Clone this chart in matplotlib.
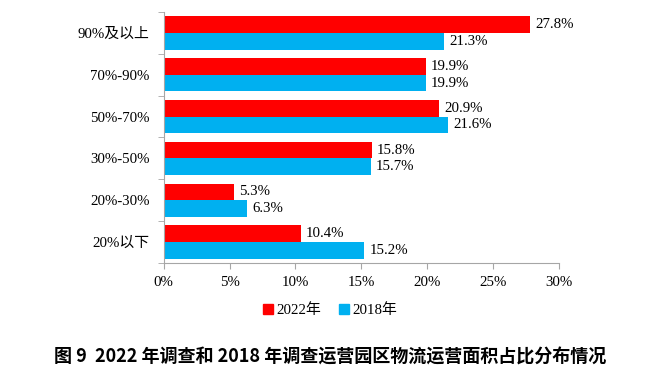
import numpy as np
import matplotlib.pyplot as plt
from matplotlib.patches import Patch

plt.rcParams['font.family'] = ['Liberation Serif', 'Noto Sans CJK SC']

# data, top to bottom as shown
categories = ['90%及以上', '70%-90%', '50%-70%', '30%-50%', '20%-30%', '20%以下']
y2022 = [27.8, 19.9, 20.9, 15.8, 5.3, 10.4]
y2018 = [21.3, 19.9, 21.6, 15.7, 6.3, 15.2]
xticks = [0, 5, 10, 15, 20, 25, 30]

red = '#ff0000'
blue = '#00b0f0'
axis_grey = '#a6a6a6'

fig = plt.figure(figsize=(6.6, 3.83), dpi=100)
ax = fig.add_axes([0.248, 0.313, 0.599, 0.656])

n = len(categories)
pos = np.arange(n)[::-1]
h = 0.4

ax.barh(pos + h / 2, y2022, height=h, color=red, label='2022年')
ax.barh(pos - h / 2, y2018, height=h, color=blue, label='2018年')

for p, v in zip(pos, y2022):
    ax.text(v + 0.4, p + h / 2, f'{v:.1f}%', va='center', ha='left', fontsize=10.7)
for p, v in zip(pos, y2018):
    ax.text(v + 0.4, p - h / 2, f'{v:.1f}%', va='center', ha='left', fontsize=10.7)

ax.set_xlim(0, 30)
ax.set_ylim(-0.5, n - 0.5)
ax.set_xticks(xticks)
ax.set_xticklabels([f'{t}%' for t in xticks], fontsize=10.7)
ax.set_yticks(pos)
ax.set_yticklabels(categories, fontsize=10.7)

# tick marks at the category boundaries on the y axis
ax.set_yticks(np.arange(n + 1) - 0.5, minor=True)
ax.tick_params(axis='y', which='major', length=0, pad=10)
ax.tick_params(axis='y', which='minor', length=4, color=axis_grey)
ax.tick_params(axis='x', length=4, color=axis_grey, pad=5)

for s in ['top', 'right']:
    ax.spines[s].set_visible(False)
ax.spines['left'].set_color(axis_grey)
ax.spines['bottom'].set_color(axis_grey)

handles = [Patch(color=red), Patch(color=blue)]
fig.legend(handles, ['2022年', '2018年'], loc='center', bbox_to_anchor=(0.5, 0.19),
           ncol=2, frameon=False, fontsize=10.7, handlelength=0.7, handleheight=0.7,
           handletextpad=0.2, columnspacing=1.2)

fig.text(0.5, 0.067, '图 9  2022 年调查和 2018 年调查运营园区物流运营面积占比分布情况',
         ha='center', va='center', fontsize=13, fontweight='bold',
         family=['Noto Sans CJK SC'])

fig.savefig('out.png', dpi=100)
